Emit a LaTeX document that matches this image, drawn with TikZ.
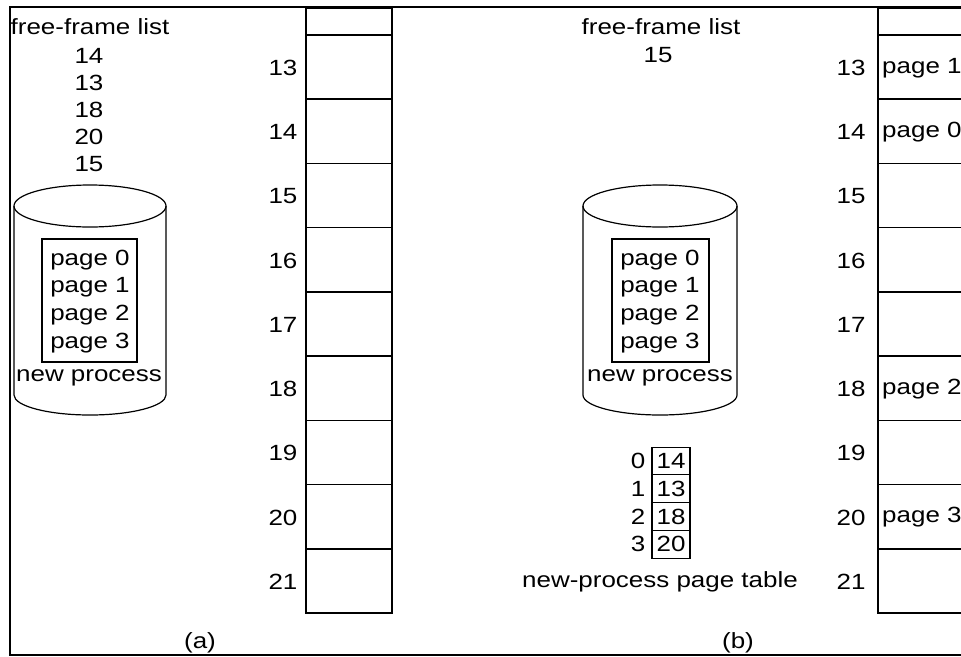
\documentclass[tikz,border=0pt]{standalone}
\usepackage{fontspec}
\setmainfont[FakeStretch=1.18]{Liberation Sans}
\usetikzlibrary{calc}

\tikzset{
  txt/.style={inner sep=0pt, font=\fontsize{22}{26}\selectfont},
  rowline/.style={line width=1.6pt},
  diskline/.style={line width=1.2pt},
  cell/.style={draw, line width=1.2pt, minimum width=38pt, minimum height=27.75pt, inner sep=0pt, font=\fontsize{22}{26}\selectfont}
}

\begin{document}
\begin{tikzpicture}[x=1pt,y=-1pt]
\useasboundingbox (0,0) rectangle (961,656);
\draw[line width=2pt] (961,7) -- (9.5,7) -- (9.5,655) -- (961,655);

% (a)
\node[txt] (ffla) at (90,27) {free-frame list};
\foreach \f [count=\i from 0] in {14,13,18,20,15}
  \node[txt] (fa\i) at (89,56+27*\i) {\f};

\draw[diskline] (90,206) ellipse [x radius=76pt, y radius=21pt];
\draw[diskline] (14,206) -- (14,395) arc[start angle=180, end angle=360, x radius=76pt, y radius=20pt] -- (166,206);
\draw[diskline] (42,239) rectangle (137,362);
\foreach \p [count=\i from 0] in {0,1,2,3}
  \node[txt] (pa\p) at (90,260+27.7*\i) {page \p};
\node[txt] (npa) at (89,378) {new process};

\draw[rowline] (306,8) rectangle (392,613);
\foreach \n [count=\i from 0] in {13,...,21} {
  \pgfmathsetmacro\ytop{35+64.22*\i}
  \draw[rowline] (306,\ytop) -- (392,\ytop);
  \node[txt] (na\n) at (283,\ytop+33) {\n};
}
\node[txt] (capa) at (200,643) {(a)};

% (b)
\node[txt] (fflb) at (661,27) {free-frame list};
\node[txt] (fb0) at (658,55) {15};

\draw[diskline] (660,206) ellipse [x radius=77pt, y radius=21pt];
\draw[diskline] (583,206) -- (583,395) arc[start angle=180, end angle=360, x radius=77pt, y radius=20pt] -- (737,206);
\draw[diskline] (612,239) rectangle (709,362);
\foreach \p [count=\i from 0] in {0,1,2,3}
  \node[txt] (pb\p) at (660,260+27.7*\i) {page \p};
\node[txt] (npb) at (660,378) {new process};

\foreach \v [count=\i from 0] in {14,13,18,20} {
  \node[cell] (pt\i) at (671,461+27.75*\i) {\v};
  \node[txt, anchor=east] (ix\i) at ($(pt\i.west)+(-6,0)$) {\i};
}
\node[txt] (ptcap) at (660,582) {new-process page table};

\draw[rowline] (961,8) -- (878,8) -- (878,613) -- (961,613);
\foreach \n [count=\i from 0] in {13,...,21} {
  \pgfmathsetmacro\ytop{35+64.22*\i}
  \draw[rowline] (878,\ytop) -- (961,\ytop);
  \node[txt] (nb\n) at (851,\ytop+33) {\n};
}
\foreach \n/\p in {13/1,14/0,18/2,20/3}
  \node[txt, anchor=west] (fp\n) at ($(nb\n)+(31,0)$) {page \p};
\node[txt] (capb) at (738,643) {(b)};
\end{tikzpicture}
\end{document}
